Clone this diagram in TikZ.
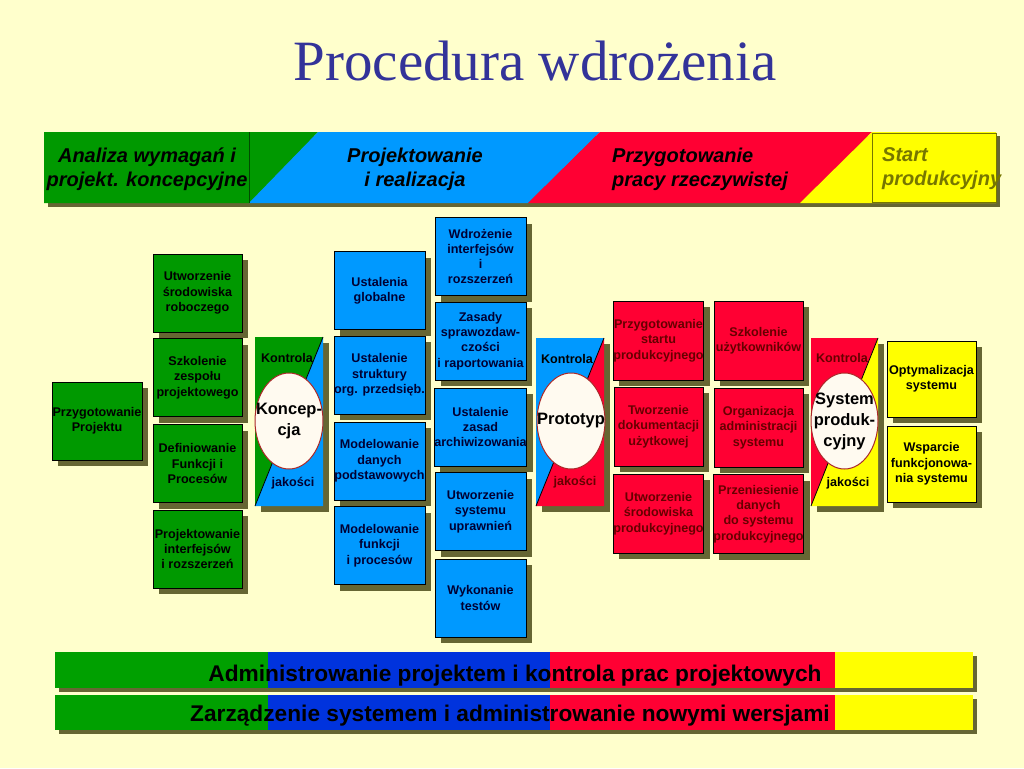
\documentclass[tikz,border=0pt]{standalone}
\usepackage{fontspec}
\setmainfont{Liberation Sans}
\newfontfamily\titlefont{Liberation Serif}
\usetikzlibrary{shapes.geometric,shadows}

\definecolor{bgyellow}{RGB}{255,255,204}
\definecolor{titleblue}{RGB}{51,51,153}
\definecolor{pgreen}{RGB}{0,153,0}
\definecolor{pblue}{RGB}{0,153,255}
\definecolor{pred}{RGB}{255,0,51}
\definecolor{pyellow}{RGB}{255,255,0}
\definecolor{bargreen}{RGB}{0,160,0}
\definecolor{barblue}{RGB}{0,51,221}
\definecolor{shadowc}{RGB}{102,102,51}
\definecolor{darkred}{RGB}{102,0,0}
\definecolor{navy}{RGB}{0,0,51}
\definecolor{startolive}{RGB}{118,118,0}
\definecolor{ellfill}{RGB}{255,250,240}
\definecolor{ellline}{RGB}{170,40,40}

\tikzset{
  task/.style={rectangle, draw=black, line width=0.8pt, align=center, inner sep=0pt,
    font=\bfseries\fontsize{12.6}{15.3}\selectfont,
    minimum width=89pt, minimum height=78pt,
    drop shadow={shadow xshift=6pt, shadow yshift=-6pt, fill=shadowc, opacity=1}},
  gtask/.style={task, fill=pgreen, text=black},
  btask/.style={task, fill=pblue, text=navy, minimum width=91pt},
  rtask/.style={task, fill=pred, text=darkred, minimum height=79pt},
  ytask/.style={task, fill=pyellow, text=black, minimum height=76pt},
  gate/.style={ellipse, draw=ellline, line width=1pt, fill=ellfill, inner sep=0pt,
    minimum width=68pt, minimum height=96pt},
  gatetext/.style={align=center, inner sep=0pt, font=\bfseries\fontsize{16.5}{21}\selectfont},
  gatelabel/.style={inner sep=0pt, font=\bfseries\fontsize{12.6}{15}\selectfont},
  phase/.style={inner sep=0pt, font=\bfseries\itshape\fontsize{20}{24}\selectfont},
  bartext/.style={inner sep=0pt, anchor=base, font=\bfseries\fontsize{22.7}{26}\selectfont},
}

\begin{document}
\begin{tikzpicture}[x=1pt,y=-1pt]
  % Background and bounding box
  \fill [bgyellow] (0,0) rectangle (1024,768);
  \useasboundingbox (0,0) rectangle (1024,768);

  % Title
  \node [anchor=base, inner sep=0pt, text=titleblue, font=\titlefont\fontsize{57}{62}\selectfont] (title) at (535,80) {Procedura wdrożenia};%

  % Drawing phase banner
  \fill [shadowc] (48,136) rectangle (1000,207);%
  \fill [pgreen] (44,132) -- (318,132) -- (249,203) -- (44,203) -- cycle;%
  \fill [pblue] (318,132) -- (600,132) -- (528,203) -- (249,203) -- cycle;%
  \fill [pred] (600,132) -- (872,132) -- (800,203) -- (528,203) -- cycle;%
  \fill [pyellow] (872,132) -- (996,132) -- (996,203) -- (800,203) -- cycle;%
  \draw [line width=0.6pt, black!50!pgreen] (249,132) -- (249,203);%
  \draw [line width=0.6pt, startolive] (872,133) rectangle (996,202);%
  \node [phase, align=center] (ph1) at (147,169) {Analiza wymagań i\\projekt. koncepcyjne};%
  \node [phase, align=center] (ph2) at (415,169) {Projektowanie\\i realizacja};%
  \node [phase, align=left, anchor=west] (ph3) at (612,169) {Przygotowanie\\pracy rzeczywistej};%
  \node [phase, align=left, anchor=west, text=startolive] (ph4) at (882,169) {Start\\produkcyjny};%

  % Drawing green tasks
  \node [gtask, minimum width=90pt] (prep) at (97,421) {Przygotowanie\\Projektu};%
  \node [gtask] (g1) at (197.5,293) {Utworzenie\\środowiska\\roboczego};%
  \node [gtask] (g2) at (197.5,377.5) {Szkolenie\\zespołu\\projektowego};%
  \node [gtask] (g3) at (197.5,463.5) {Definiowanie\\Funkcji i\\Procesów};%
  \node [gtask] (g4) at (197.5,549) {Projektowanie\\interfejsów\\i rozszerzeń};%

  % Drawing control gate 1
  \fill [shadowc] (261,343) rectangle (329,512);%
  \fill [pgreen] (255,337) -- (323,337) -- (255,506) -- cycle;%
  \fill [pblue] (323,337) -- (323,506) -- (255,506) -- cycle;%
  \draw [line width=0.8pt] (323,337) -- (255,506);%
  \node [gate] (e1) at (289,421) {};%
  \node [gatetext] (e1t) at (e1) {Koncep-\\cja};%
  \node [gatelabel, text=black] (k1) at (287,358) {Kontrola};%
  \node [gatelabel, text=navy] (j1) at (293,483) {jakości};%

  % Drawing blue tasks, first column
  \node [btask] (b1) at (379.5,290.5) {Ustalenia\\globalne};%
  \node [btask] (b2) at (379.5,375) {Ustalenie\\struktury\\org. przedsięb.};%
  \node [btask] (b3) at (379.5,461) {Modelowanie\\danych\\podstawowych};%
  \node [btask] (b4) at (379.5,545.5) {Modelowanie\\funkcji\\i procesów};%

  % Drawing blue tasks, second column
  \node [btask] (b5) at (480.5,256.5) {Wdrożenie\\interfejsów\\i\\rozszerzeń};%
  \node [btask] (b6) at (480.5,341) {Zasady\\sprawozdaw-\\czości\\i raportowania};%
  \node [btask] (b7) at (480.5,427) {Ustalenie\\zasad\\archiwizowania};%
  \node [btask] (b8) at (480.5,511.5) {Utworzenie\\systemu\\uprawnień};%
  \node [btask] (b9) at (480.5,598) {Wykonanie\\testów};%

  % Drawing control gate 2
  \fill [shadowc] (542,344) rectangle (610,512);%
  \fill [pblue] (536,338) -- (604,338) -- (536,506) -- cycle;%
  \fill [pred] (604,338) -- (604,506) -- (536,506) -- cycle;%
  \draw [line width=0.8pt] (604,338) -- (536,506);%
  \node [gate] (e2) at (571,421) {};%
  \node [gatetext] (e2t) at (e2) {Prototyp};%
  \node [gatelabel, text=black] (k2) at (567,359) {Kontrola};%
  \node [gatelabel, text=darkred] (j2) at (575,482) {jakości};%

  % Drawing red tasks
  \node [rtask] (r1) at (658.5,340.5) {Przygotowanie\\startu\\produkcyjnego};%
  \node [rtask] (r2) at (658.5,426.5) {Tworzenie\\dokumentacji\\użytkowej};%
  \node [rtask] (r3) at (658.5,513.5) {Utworzenie\\środowiska\\produkcyjnego};%
  \node [rtask] (r4) at (758.5,340.5) {Szkolenie\\użytkowników};%
  \node [rtask] (r5) at (758.5,427.5) {Organizacja\\administracji\\systemu};%
  \node [rtask] (r6) at (758.5,514) {Przeniesienie\\danych\\do systemu\\produkcyjnego};%

  % Drawing control gate 3
  \fill [shadowc] (817,344) rectangle (884,512);%
  \fill [pred] (811,338) -- (878,338) -- (811,506) -- cycle;%
  \fill [pyellow] (878,338) -- (878,506) -- (811,506) -- cycle;%
  \draw [line width=0.8pt] (878,338) -- (811,506);%
  \node [gate, minimum width=67pt] (e3) at (844.5,421) {};%
  \node [gatetext] (e3t) at (e3) {System\\produk-\\cyjny};%
  \node [gatelabel, text=darkred] (k3) at (842,358) {Kontrola};%
  \node [gatelabel, text=black] (j3) at (848,483) {jakości};%

  % Drawing yellow tasks
  \node [ytask] (y1) at (931.5,379) {Optymalizacja\\systemu};%
  \node [ytask] (y2) at (931.5,464) {Wsparcie\\funkcjonowa-\\nia systemu};%

  % Drawing bar 1
  \fill [shadowc] (59,656) rectangle (977,692);%
  \fill [bargreen] (55,652) rectangle (268,688);%
  \fill [barblue] (268,652) rectangle (550,688);%
  \fill [pred] (550,652) rectangle (835,688);%
  \fill [pyellow] (835,652) rectangle (973,688);%
  \node [bartext] (adm) at (515,681) {Administrowanie projektem i kontrola prac projektowych};%

  % Drawing bar 2
  \fill [shadowc] (59,699) rectangle (977,734);%
  \fill [bargreen] (55,695) rectangle (268,730);%
  \fill [barblue] (268,695) rectangle (550,730);%
  \fill [pred] (550,695) rectangle (835,730);%
  \fill [pyellow] (835,695) rectangle (973,730);%
  \node [bartext] (zar) at (510,721) {Zarządzenie systemem i administrowanie nowymi wersjami};%
\end{tikzpicture}
\end{document}
